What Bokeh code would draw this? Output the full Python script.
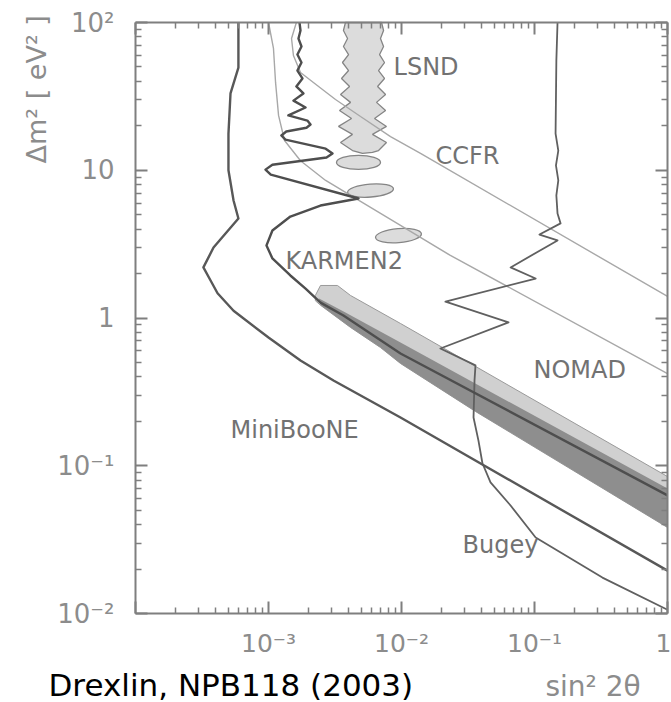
from bokeh.plotting import figure
from bokeh.models import FixedTicker, CustomJSTickFormatter, LogAxis, Label, Range1d
from bokeh.embed import file_html
from bokeh.resources import INLINE
from bokeh.core.properties import value

# ---------------- data: (sin^2 2theta, dm^2 [eV^2]) ----------------
miniboone_s2 = [5.94e-4, 5.94e-4, 5.18e-4, 5.00e-4, 5.00e-4, 5.46e-4, 5.94e-4, 3.86e-4, 3.24e-4,
                3.66e-4, 4.14e-4, 5.46e-4, 1.00e-3, 1.74e-3, 3.08e-3, 9.83e-3, 1.0]
miniboone_dm2 = [100, 49.5, 33.1, 17.7, 10.0, 6.24, 4.71, 3.00, 2.20,
                 1.80, 1.47, 1.12, 0.738, 0.515, 0.378, 0.212, 0.0195]

karmen_s2 = [1.71e-3, 1.74e-3, 1.68e-3, 1.77e-3, 1.65e-3, 1.77e-3, 1.65e-3, 1.80e-3, 1.62e-3,
             1.83e-3, 1.54e-3, 1.90e-3, 1.41e-3,
             1.96e-3, 2.07e-3, 1.93e-3,
             1.36e-3, 1.25e-3, 1.34e-3,
             2.69e-3, 3.03e-3, 2.73e-3,
             1.07e-3, 9.49e-4, 1.04e-3,
             4.75e-3, 2.46e-3, 1.46e-3, 1.07e-3, 9.66e-4, 1.07e-3, 1.46e-3, 1.90e-3, 2.46e-3,
             3.66e-3, 9.83e-3, 1.0]
karmen_dm2 = [100, 88.3, 77.9, 68.8, 60.7, 53.6, 47.3, 41.8, 36.9,
              33.1, 29.6, 26.6, 23.5,
              21.7, 20.4, 19.4,
              18.3, 17.2, 16.1,
              14.0, 13.0, 12.2,
              10.9, 10.1, 9.35,
              6.44, 5.77, 4.86, 3.91, 3.10, 2.53, 1.94, 1.58, 1.27,
              1.04, 0.575, 0.0630]

nomad_s2 = [1.00e-3, 1.09e-3, 1.13e-3, 1.19e-3, 1.32e-3, 1.74e-3, 2.69e-3, 4.14e-3, 9.83e-3, 2.33e-2, 1.0]
nomad_dm2 = [100, 66.7, 39.3, 23.5, 15.9, 11.6, 8.53, 6.75, 4.23, 2.65, 0.421]

ccfr_s2 = [1.62e-3, 1.49e-3, 1.54e-3, 1.74e-3, 2.38e-3, 3.19e-3, 4.92e-3, 8.27e-3, 1.39e-2, 1.0]
ccfr_dm2 = [100, 77.9, 59.8, 45.9, 36.9, 30.1, 23.1, 16.9, 13.0, 1.40]

bugey_s2 = [0.149, 0.146, 0.144, 0.151, 0.145, 0.151, 0.146, 0.149, 0.157, 0.109, 0.149,
            6.61e-2, 0.102, 2.14e-2, 6.38e-2, 1.96e-2, 3.60e-2, 3.54e-2, 3.48e-2, 3.79e-2,
            4.06e-2, 4.67e-2, 6.61e-2, 0.102, 0.324, 1.0]
bugey_dm2 = [100, 55.3, 17.7, 13.6, 10.8, 8.53, 6.75, 5.09, 4.37, 3.67, 3.35,
             2.20, 1.85, 1.29, 0.933, 0.622, 0.478, 0.378, 0.212, 0.148,
             0.104, 0.0771, 0.0538, 0.0327, 0.0175, 0.0106]

# LSND allowed regions
lsnd_band_outer_s2 = [2.25e-3, 2.46e-3, 3.30e-3, 4.14e-3, 9.83e-3, 3.30e-2, 1.0,
                      1.0, 3.60e-2, 9.83e-3, 6.95e-3, 4.14e-3, 2.46e-3, 2.25e-3]
lsnd_band_outer_dm2 = [1.42, 1.66, 1.66, 1.42, 0.918, 0.492, 0.0845,
                       0.0382, 0.233, 0.492, 0.631, 0.863, 1.22, 1.31]
lsnd_band_inner_s2 = [2.38e-3, 3.79e-3, 9.83e-3, 1.0, 1.0, 3.60e-2, 9.83e-3, 6.95e-3, 4.14e-3, 2.46e-3]
lsnd_band_inner_dm2 = [1.36, 1.09, 0.682, 0.0702, 0.0382, 0.233, 0.492, 0.631, 0.863, 1.22]

lsnd_strip_s2 = [3.79e-3, 3.66e-3, 3.93e-3, 3.66e-3, 4.00e-3, 3.60e-3, 4.00e-3, 3.54e-3, 4.07e-3,
                 3.48e-3, 4.14e-3, 3.42e-3, 4.21e-3, 3.36e-3, 4.28e-3, 3.48e-3, 4.28e-3, 5.09e-3,
                 6.05e-3, 6.72e-3, 7.71e-3, 6.05e-3, 7.71e-3, 6.27e-3, 7.59e-3, 6.49e-3, 7.59e-3,
                 6.61e-3, 7.45e-3, 6.72e-3, 7.45e-3, 6.84e-3, 7.33e-3, 6.95e-3, 7.33e-3, 7.08e-3]
lsnd_strip_dm2 = [100, 88.3, 77.9, 68.8, 60.7, 53.6, 47.3, 41.8, 36.9,
                  32.6, 28.8, 25.4, 22.4, 19.8, 17.5, 15.4, 13.6, 13.0,
                  13.2, 13.6, 15.4, 17.5, 19.8, 22.4, 25.4, 28.8, 32.6,
                  36.9, 41.8, 47.3, 53.6, 60.7, 68.8, 77.9, 88.3, 100]

lsnd_island_s2 = [4.75e-3, 5.85e-3, 9.49e-3]
lsnd_island_dm2 = [11.3, 7.29, 3.61]

label_names = ["LSND", "CCFR", "KARMEN2", "NOMAD", "MiniBooNE", "Bugey"]
label_s2 = [8.71e-3, 1.80e-2, 1.34e-3, 9.83e-2, 5.18e-4, 2.88e-2]
label_dm2 = [43.8, 11.1, 2.16, 0.395, 0.155, 0.0255]

x_major = [1e-4, 1e-3, 1e-2, 1e-1, 1.0]
y_major = [1e-2, 1e-1, 1.0, 10.0, 100.0]
x_minor = [m * 10.0 ** d for d in range(-4, 0) for m in range(2, 10)]
y_minor = [m * 10.0 ** d for d in range(-2, 2) for m in range(2, 10)]

y_title = "Δm² [ eV² ]"
x_title = "sin² 2θ"
citation = "Drexlin, NPB118 (2003)"

# ---------------- layout (pixels) and styling ----------------
W, H = 671, 702
BOX_L, BOX_R, BOX_T, BOX_B = 135, 667, 22, 613   # where the data box sits on the canvas
FONT = "DejaVu Sans"
AXIS_GRAY = "#7f7f7f"
TICK_TEXT = "#8c8c8c"
LABEL_TEXT = "#727272"

x_lo, x_hi = x_major[0], x_major[-1]
y_lo, y_hi = y_major[0], y_major[-1]
x_dec = (BOX_R - BOX_L) / 4.0
y_dec = (BOX_B - BOX_T) / 4.0
x_start = x_lo * 10 ** (-BOX_L / x_dec)
x_end = x_hi * 10 ** ((W - BOX_R) / x_dec)
y_end = y_hi * 10 ** (BOX_T / y_dec)
y_start = y_lo * 10 ** (-(H - BOX_B) / y_dec)

p = figure(width=W, height=H, x_axis_type="log", y_axis_type="log",
           x_range=Range1d(x_start, x_end), y_range=Range1d(y_start, y_end),
           x_axis_location=None, y_axis_location=None,
           min_border=0, min_border_left=0, min_border_right=0, min_border_top=0, min_border_bottom=0,
           output_backend="svg", toolbar_location=None)
p.outline_line_color = None
p.grid.visible = False
p.background_fill_color = "white"
p.border_fill_color = "white"


def exp_formatter(min_exp):
    return CustomJSTickFormatter(code=f"""
const e = Math.round(Math.log10(tick));
if (e < {min_exp}) return "";
if (e === 0) return "1";
if (e === 1) return "10";
const sup = {{"-": "\\u207b", "0": "\\u2070", "1": "\\u00b9", "2": "\\u00b2", "3": "\\u00b3", "4": "\\u2074"}};
return "10" + String(e).split("").map(c => sup[c]).join("");
""")


def make_axis(ticks, minor_ticks, loc, bounds, show_labels, min_exp=-10, standoff=16, size="25px"):
    ax = LogAxis(fixed_location=loc, bounds=bounds)
    ax.ticker = FixedTicker(ticks=ticks, minor_ticks=minor_ticks)
    ax.axis_line_color = AXIS_GRAY
    ax.axis_line_width = 2
    ax.major_tick_line_color = AXIS_GRAY
    ax.major_tick_line_width = 2
    ax.minor_tick_line_color = AXIS_GRAY
    ax.minor_tick_line_width = 1.5
    ax.major_tick_in = 12
    ax.major_tick_out = 0
    ax.minor_tick_in = 6
    ax.minor_tick_out = 0
    if show_labels:
        ax.formatter = exp_formatter(min_exp)
        ax.major_label_text_font = FONT
        ax.major_label_text_font_size = size
        ax.major_label_text_color = TICK_TEXT
        ax.major_label_standoff = standoff
    else:
        ax.formatter = CustomJSTickFormatter(code="return '';")
        ax.major_label_text_font_size = "0px"
        ax.major_label_standoff = 0
    return ax


# LSND regions
p.patch(lsnd_band_outer_s2, lsnd_band_outer_dm2, fill_color="#d0d0d0", line_color="#9a9a9a", line_width=1)
p.patch(lsnd_band_inner_s2, lsnd_band_inner_dm2, fill_color="#8e8e8e", line_color=None)
p.patch(lsnd_strip_s2, lsnd_strip_dm2, fill_color="#dcdcdc", line_color="#858585", line_width=1.3)
p.ellipse(x=lsnd_island_s2, y=lsnd_island_dm2, width=[44, 46, 46], height=[14, 13, 14],
          width_units="screen", height_units="screen", angle=[0.0, 0.08, 0.08],
          fill_color="#dcdcdc", line_color="#858585", line_width=1.3)

# limit curves
p.line(nomad_s2, nomad_dm2, line_color="#a8a8a8", line_width=1.4)
p.line(ccfr_s2, ccfr_dm2, line_color="#a8a8a8", line_width=1.4)
p.line(bugey_s2, bugey_dm2, line_color="#606060", line_width=1.8, line_join="round")
p.line(miniboone_s2, miniboone_dm2, line_color="#585858", line_width=2.4, line_join="round")
p.line(karmen_s2, karmen_dm2, line_color="#4e4e4e", line_width=2.4, line_join="round")

p.text(x=label_s2, y=label_dm2, text=label_names, text_font=value(FONT), text_font_size="24px",
       text_color=LABEL_TEXT, text_align="left", text_baseline="alphabetic", y_offset=-8)

# axes on the four sides of the data box
p.add_layout(make_axis(x_major, x_minor, y_lo, (x_lo, x_hi), True, min_exp=-3, standoff=15), "below")
p.add_layout(make_axis(y_major, y_minor, x_lo, (y_lo, y_hi), True, standoff=21, size="26px"), "left")
p.add_layout(make_axis(x_major, x_minor, y_hi, (x_lo, x_hi), False), "above")
p.add_layout(make_axis(y_major, y_minor, x_hi, (y_lo, y_hi), False), "right")

# titles and citation (screen pixels from the canvas' lower-left corner)
p.add_layout(Label(x=36, y=H - 163, x_units="screen", y_units="screen", text=y_title,
                   angle=90, angle_units="deg", text_align="left", text_baseline="middle",
                   text_font=FONT, text_font_size="27px", text_color=TICK_TEXT))
p.add_layout(Label(x=545, y=16, x_units="screen", y_units="screen", text=x_title,
                   text_align="left", text_baseline="alphabetic",
                   text_font=FONT, text_font_size="28px", text_color=TICK_TEXT))
p.add_layout(Label(x=48, y=18, x_units="screen", y_units="screen", text=citation,
                   text_align="left", text_baseline="alphabetic",
                   text_font=FONT, text_font_size="31px", text_color="black"))

open("out.html", "w").write(file_html(p, INLINE))
